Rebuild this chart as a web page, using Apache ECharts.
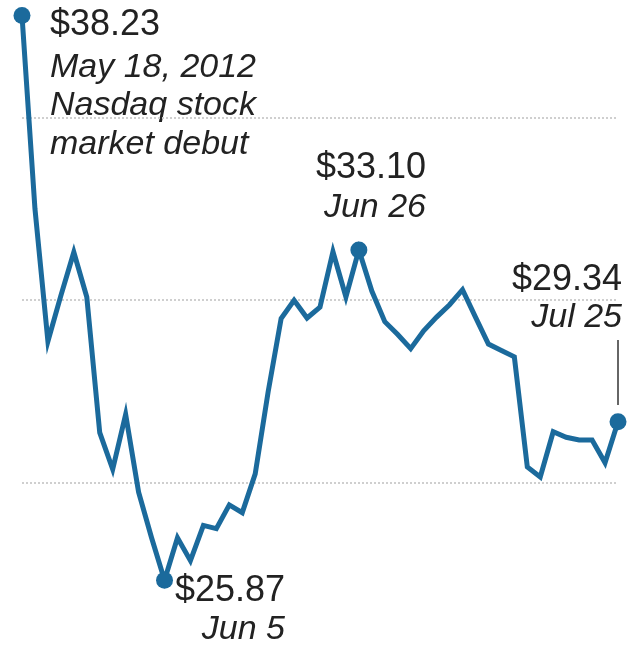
<!DOCTYPE html>
<html>
<head>
<meta charset="utf-8">
<script src="https://cdn.jsdelivr.net/npm/echarts@6/dist/echarts.min.js"></script>
<style>
html,body{margin:0;padding:0;background:#fff;}
#chart{width:629px;height:652px;}
</style>
</head>
<body>
<div id="chart"></div>
<script>
var dates = ["May 18","May 21","May 22","May 23","May 24","May 25","May 29","May 30","May 31",
  "Jun 1","Jun 4","Jun 5","Jun 6","Jun 7","Jun 8","Jun 11","Jun 12","Jun 13","Jun 14","Jun 15",
  "Jun 18","Jun 19","Jun 20","Jun 21","Jun 22","Jun 25","Jun 26","Jun 27","Jun 28","Jun 29",
  "Jul 2","Jul 3","Jul 5","Jul 6","Jul 9","Jul 10","Jul 11","Jul 12","Jul 13","Jul 16","Jul 17",
  "Jul 18","Jul 19","Jul 20","Jul 23","Jul 24","Jul 25"];
var prices = [38.23,34.0,31.1,32.1,33.05,32.07,29.1,28.3,29.5,27.8,26.8,25.87,26.8,26.3,27.07,27.0,
  27.52,27.35,28.2,30.0,31.6,32.0,31.61,31.85,33.06,32.07,33.10,32.2,31.53,31.25,30.94,31.33,31.63,
  31.9,32.23,31.63,31.04,30.9,30.76,28.35,28.13,29.12,29.0,28.94,28.94,28.44,29.34];
var keyIdx = [0, 11, 26, 46];
var gridValues = [28, 32, 36];

var chart = echarts.init(document.getElementById('chart'));
var blue = '#1b6a9c';
var txt = '#222222';
var F = 'Liberation Sans, Arial, Helvetica, sans-serif';
function t(x, y, s, align, italic){
  return {type:'text', x:x, y:y, silent:true,
    style:{text:s, fill:txt, font:(italic?'italic 34px ':'36px ')+F, textAlign:align, textVerticalAlign:'middle'}};
}
chart.setOption({
  animation:false,
  backgroundColor:'#ffffff',
  grid:{left:22, right:11, top:0, bottom:0},
  xAxis:{type:'category', data:dates, boundaryGap:false,
    axisLine:{show:false}, axisTick:{show:false}, axisLabel:{show:false}, splitLine:{show:false}},
  yAxis:{type:'value', min:24.30, max:38.57, scale:true,
    axisLine:{show:false}, axisTick:{show:false}, axisLabel:{show:false}, splitLine:{show:false}},
  series:[{
    type:'line', data:prices, showSymbol:true, showAllSymbol:true, symbol:'circle',
    symbolSize:function(v,p){return keyIdx.indexOf(p.dataIndex)>=0?17:0;},
    itemStyle:{color:blue}, lineStyle:{color:blue, width:5, join:'miter'}, z:3,
    markLine:{silent:true, symbol:'none', label:{show:false}, z:1,
      lineStyle:{color:'#cfcfcf', width:2, type:'dotted'},
      data:gridValues.map(function(v){return {yAxis:v};})}
  }],
  graphic:[
    t(50,25,'$38.23','left',false),
    t(50,68,'May 18, 2012','left',true),
    t(50,106,'Nasdaq stock','left',true),
    t(50,145,'market debut','left',true),
    t(426,168,'$33.10','right',false),
    t(426,208,'Jun 26','right',true),
    t(622,280,'$29.34','right',false),
    t(622,318,'Jul 25','right',true),
    t(285,591,'$25.87','right',false),
    t(285,630,'Jun 5','right',true),
    {type:'line', silent:true, shape:{x1:618,y1:340,x2:618,y2:405}, style:{stroke:'#333', lineWidth:1.5}}
  ]
});
</script>
</body>
</html>
